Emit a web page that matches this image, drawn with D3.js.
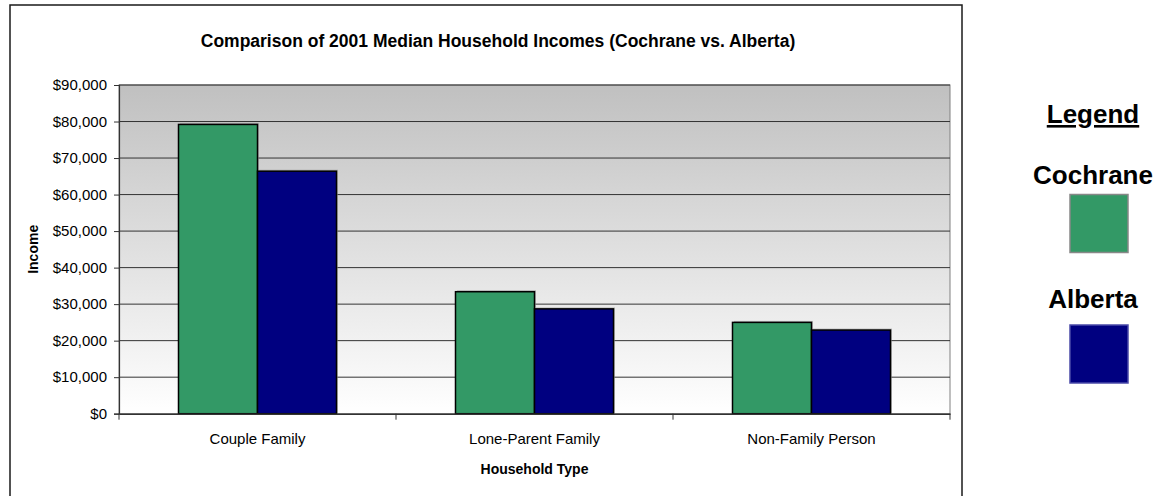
<!DOCTYPE html>
<html>
<head>
<meta charset="utf-8">
<script src="https://cdn.jsdelivr.net/npm/d3@7"></script>
<style>
  html, body { margin: 0; padding: 0; background: #fff; }
  svg { display: block; font-family: "Liberation Sans", Arial, sans-serif; }
</style>
</head>
<body>
<svg id="chart" width="1167" height="496"></svg>
<script>
// ---- data ----
const categories = ["Couple Family", "Lone-Parent Family", "Non-Family Person"];
const seriesNames = ["Cochrane", "Alberta"];
const cochraneValues = [79200, 33400, 25000];
const albertaValues = [66400, 28700, 22900];
const yTicks = [0, 10000, 20000, 30000, 40000, 50000, 60000, 70000, 80000, 90000];
const colors = ["#339966", "#000080"];
const titleText = "Comparison of 2001 Median Household Incomes (Cochrane vs. Alberta)";
const xTitle = "Household Type";
const yTitle = "Income";

const svg = d3.select("#chart");

// outer chart border
svg.append("rect").attr("x", 10).attr("y", 5).attr("width", 952).attr("height", 500)
  .attr("fill", "#fff").attr("stroke", "#1a1a1a").attr("stroke-width", 1.5);

const plot = { left: 119, right: 950, top: 85, bottom: 413.7 };

const x0 = d3.scaleBand().domain(categories).range([plot.left, plot.right]).padding(0);
const y = d3.scaleLinear().domain([0, 90000]).range([plot.bottom, plot.top]);

// background gradient
const defs = svg.append("defs");
const grad = defs.append("linearGradient").attr("id", "bg").attr("x1", 0).attr("y1", 0).attr("x2", 0).attr("y2", 1);
grad.append("stop").attr("offset", "0%").attr("stop-color", "#c0c0c0");
grad.append("stop").attr("offset", "100%").attr("stop-color", "#ffffff");

svg.append("rect").attr("x", plot.left).attr("y", plot.top)
  .attr("width", plot.right - plot.left).attr("height", plot.bottom - plot.top)
  .attr("fill", "url(#bg)").attr("stroke", "#808080").attr("stroke-width", 1);

// gridlines
svg.append("g").selectAll("line").data(yTicks.filter(d => d > 0)).join("line")
  .attr("x1", plot.left).attr("x2", plot.right)
  .attr("y1", d => y(d)).attr("y2", d => y(d))
  .attr("stroke", "#333").attr("stroke-width", 1);

// bars
const barW = x0.bandwidth() * 0.2852;
const seriesData = [cochraneValues, albertaValues];
const barsG = svg.append("g");
categories.forEach((c, i) => {
  const cx = x0(c) + x0.bandwidth() / 2;
  seriesData.forEach((vals, s) => {
    const bx = cx - barW + s * barW;
    barsG.append("rect").attr("x", bx + 1.5).attr("y", y(vals[i]) - 1.5)
      .attr("width", barW).attr("height", plot.bottom - y(vals[i]) + 1.5)
      .attr("fill", "#999").attr("opacity", 0.6);
  });
  seriesData.forEach((vals, s) => {
    const bx = cx - barW + s * barW;
    barsG.append("rect").attr("x", bx).attr("y", y(vals[i]))
      .attr("width", barW).attr("height", plot.bottom - y(vals[i]))
      .attr("fill", colors[s]).attr("stroke", "#000").attr("stroke-width", 1.5);
  });
});

// y axis
const yAxis = d3.axisLeft(y).tickValues(yTicks).tickSize(5).tickPadding(7)
  .tickFormat(d => "$" + d3.format(",")(d));
const yg = svg.append("g").attr("transform", `translate(${plot.left},0)`).call(yAxis);
yg.select(".domain").attr("stroke", "#333").attr("stroke-width", 1.2);
yg.selectAll(".tick line").attr("stroke", "#333");
yg.selectAll("text").attr("font-size", "15px").attr("fill", "#000")
  .attr("font-family", "'Liberation Sans', Arial, sans-serif");

// x axis
const xAxis = d3.axisBottom(x0).tickSize(0).tickPadding(20);
const xg = svg.append("g").attr("transform", `translate(0,${plot.bottom})`).call(xAxis);
xg.select(".domain").attr("stroke", "#333").attr("stroke-width", 1.5);
xg.selectAll("text").attr("font-size", "15px").attr("fill", "#000")
  .attr("font-family", "'Liberation Sans', Arial, sans-serif");
const bounds = categories.map(c => x0(c)).concat([plot.right]);
xg.append("g").selectAll("line").data(bounds).join("line")
  .attr("x1", d => d).attr("x2", d => d).attr("y1", 0).attr("y2", 6)
  .attr("stroke", "#333").attr("stroke-width", 1);

// title
svg.append("text").attr("x", 498).attr("y", 47).attr("text-anchor", "middle")
  .attr("font-size", "17.5px").attr("font-weight", "bold").text(titleText);

// axis titles
svg.append("text").attr("x", (plot.left + plot.right) / 2).attr("y", 474)
  .attr("text-anchor", "middle").attr("font-size", "14px").attr("font-weight", "bold").text(xTitle);
svg.append("text").attr("transform", `translate(38,${(plot.top + plot.bottom) / 2}) rotate(-90)`)
  .attr("text-anchor", "middle").attr("font-size", "14px").attr("font-weight", "bold").text(yTitle);

// legend
const lg = svg.append("g");
const lx = 1093;
lg.append("text").attr("x", lx).attr("y", 123).attr("text-anchor", "middle")
  .attr("font-size", "26px").attr("font-weight", "bold").attr("text-decoration", "underline").text("Legend");
const legendRows = [{ name: seriesNames[0], ty: 184, sy: 194.5 }, { name: seriesNames[1], ty: 308, sy: 325 }];
legendRows.forEach((r, i) => {
  lg.append("text").attr("x", lx).attr("y", r.ty).attr("text-anchor", "middle")
    .attr("font-size", "26px").attr("font-weight", "bold").text(r.name);
  lg.append("rect").attr("x", 1070).attr("y", r.sy).attr("width", 58).attr("height", 58)
    .attr("fill", colors[i]).attr("stroke", i === 0 ? "#888" : "#4a4aa8").attr("stroke-width", 1.5);
});
</script>
</body>
</html>
